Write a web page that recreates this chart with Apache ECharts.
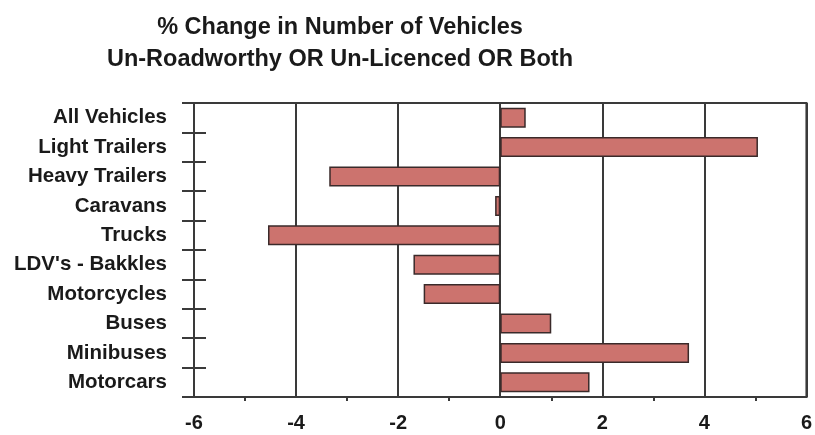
<!DOCTYPE html>
<html>
<head>
<meta charset="utf-8">
<script src="https://cdn.jsdelivr.net/npm/echarts@6/dist/echarts.min.js"></script>
<style>html,body{margin:0;padding:0;background:#fff}#c{width:815px;height:435px}</style>
</head>
<body>
<div id="c"></div>
<script>
const titleLines = ['% Change in Number of Vehicles', 'Un-Roadworthy OR Un-Licenced OR Both'];
const categories = ['All Vehicles', 'Light Trailers', 'Heavy Trailers', 'Caravans', 'Trucks', "LDV's - Bakkles", 'Motorcycles', 'Buses', 'Minibuses', 'Motorcars'];
const values = [0.5, 5.05, -3.35, -0.1, -4.55, -1.7, -1.5, 1.0, 3.7, 1.75];
const xTicks = [-6, -4, -2, 0, 2, 4, 6];

const chart = echarts.init(document.getElementById('c'));
const font = 'Liberation Sans, Arial, sans-serif';
const lineCol = '#3a3a3a';
chart.setOption({
  animation: false,
  backgroundColor: '#ffffff',
  title: {
    text: titleLines.join('\n'),
    left: 335, top: 7, textAlign: 'center',
    textStyle: { fontFamily: font, fontWeight: 'bold', fontSize: 23.5, lineHeight: 32, color: '#1a1a1a' }
  },
  grid: { left: 194, right: 8, top: 103, bottom: 38, show: true, borderColor: lineCol, borderWidth: 2 },
  xAxis: {
    type: 'value', min: xTicks[0], max: xTicks[xTicks.length - 1], interval: 2,
    axisLine: { show: true, onZero: false, lineStyle: { color: lineCol, width: 2 } },
    axisTick: { show: false },
    minorTick: { show: true, splitNumber: 2, length: 4, lineStyle: { color: lineCol, width: 2 } },
    splitLine: { show: true, lineStyle: { color: lineCol, width: 2 } },
    axisLabel: { margin: 16, fontFamily: font, fontWeight: 'bold', fontSize: 20, color: '#1a1a1a' }
  },
  yAxis: {
    type: 'category', data: categories, inverse: true, position: 'left', offset: -12,
    axisLine: { show: false, onZero: false },
    axisTick: { show: true, length: 24, lineStyle: { color: lineCol, width: 2 } },
    axisLabel: { margin: 39, fontFamily: font, fontWeight: 'bold', fontSize: 20.5, color: '#1a1a1a' }
  },
  series: [{
    type: 'bar', data: values, barWidth: '68%',
    itemStyle: { color: '#cc736e', borderColor: '#3a2a2a', borderWidth: 1.5 }
  }]
});
</script>
</body>
</html>
